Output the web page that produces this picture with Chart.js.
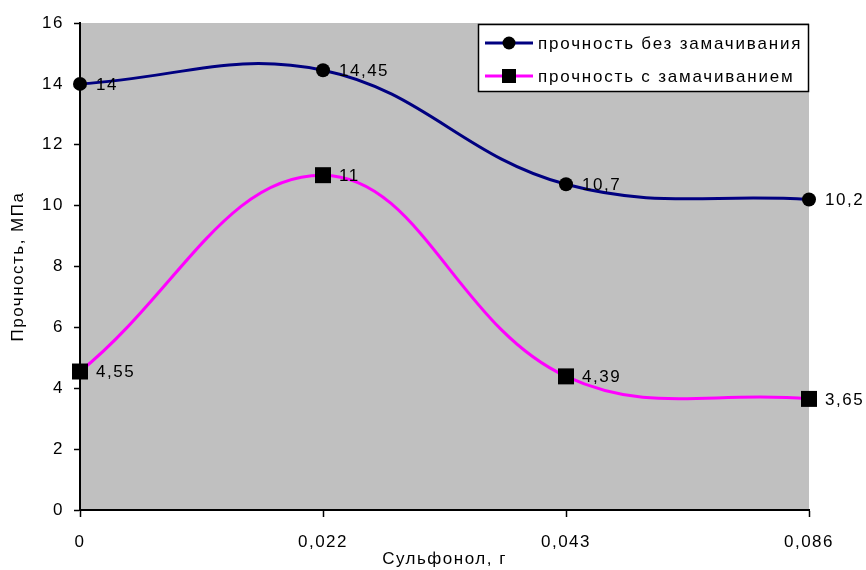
<!DOCTYPE html>
<html>
<head>
<meta charset="utf-8">
<script src="https://cdn.jsdelivr.net/npm/chart.js@4.4.1/dist/chart.umd.min.js"></script>
<style>
  html, body { margin: 0; background: #fff; }
  #wrap { width: 866px; height: 570px; }
</style>
</head>
<body>
<div id="wrap"><canvas id="chart"></canvas></div>
<script>
// ===== data =====
const categories  = ['0', '0,022', '0,043', '0,086'];
const seriesNames = ['прочность без замачивания', 'прочность с замачиванием'];
const dryStrength = [14, 14.45, 10.7, 10.2];   // без замачивания
const wetStrength = [4.55, 11, 4.39, 3.65];    // с замачиванием
const yMin = 0, yMax = 16, yStep = 2;
const xTitle = 'Сульфонол, г';
const yTitle = 'Прочность, МПа';

const NAVY = '#000080';
const MAGENTA = '#ff00ff';
const FONT = 'Liberation Sans, Arial, sans-serif';
const SPACING = '1.5px';

const fmt = v => String(v).replace('.', ',');

// ===== серый фон области построения =====
const plotBg = {
  id: 'plotBg',
  beforeDraw(chart) {
    const { ctx, chartArea: a } = chart;
    ctx.letterSpacing = SPACING;
    ctx.save();
    ctx.fillStyle = '#c0c0c0';
    ctx.fillRect(a.left, a.top, a.right - a.left, a.bottom - a.top);
    ctx.restore();
  }
};

// ===== подписи значений справа от точек =====
const valueLabels = {
  id: 'valueLabels',
  afterDatasetsDraw(chart) {
    const ctx = chart.ctx;
    ctx.save();
    ctx.letterSpacing = SPACING;
    ctx.font = '17px ' + FONT;
    ctx.fillStyle = '#000';
    ctx.textAlign = 'left';
    ctx.textBaseline = 'middle';
    chart.data.datasets.forEach((ds, i) => {
      chart.getDatasetMeta(i).data.forEach((pt, j) => {
        ctx.fillText(fmt(ds.data[j]), pt.x + 16, pt.y + 1);
      });
    });
    ctx.restore();
  }
};

// ===== легенда в белой рамке =====
const legendBox = {
  id: 'legendBox',
  afterDraw(chart) {
    const ctx = chart.ctx;
    const a = chart.chartArea;
    const w = 331, h = 68;
    const x = a.right - w, y = a.top + 1;
    ctx.save();
    ctx.fillStyle = '#fff';
    ctx.fillRect(x, y, w, h);
    ctx.strokeStyle = '#000';
    ctx.lineWidth = 1.5;
    ctx.strokeRect(x + 0.5, y + 0.5, w - 1, h - 1);
    ctx.letterSpacing = '1.8px';
    ctx.font = '17px ' + FONT;
    ctx.textBaseline = 'middle';
    chart.data.datasets.forEach((ds, i) => {
      const cy = y + 19 + i * 33;
      ctx.strokeStyle = ds.borderColor;
      ctx.lineWidth = 3;
      ctx.beginPath();
      ctx.moveTo(x + 7, cy);
      ctx.lineTo(x + 55, cy);
      ctx.stroke();
      ctx.fillStyle = '#000';
      if (ds.pointStyle === 'rect') {
        ctx.fillRect(x + 31 - 7, cy - 7, 14, 14);
      } else {
        ctx.beginPath();
        ctx.arc(x + 31, cy, 6.5, 0, Math.PI * 2);
        ctx.fill();
      }
      ctx.fillText(ds.label, x + 60, cy + 1);
    });
    ctx.restore();
  }
};

new Chart(document.getElementById('chart'), {
  type: 'line',
  data: {
    labels: categories,
    datasets: [
      {
        label: seriesNames[0],
        data: dryStrength,
        borderColor: NAVY,
        borderWidth: 3,
        tension: 0.4,
        pointStyle: 'circle',
        pointRadius: 7,
        pointBackgroundColor: '#000',
        pointBorderColor: '#000',
        pointBorderWidth: 0,
        clip: false
      },
      {
        label: seriesNames[1],
        data: wetStrength,
        borderColor: MAGENTA,
        borderWidth: 3,
        tension: 0.4,
        pointStyle: 'rect',
        pointRadius: 11.3,
        pointBackgroundColor: '#000',
        pointBorderColor: '#000',
        pointBorderWidth: 0,
        clip: false
      }
    ]
  },
  options: {
    responsive: true,
    maintainAspectRatio: false,
    animation: false,
    layout: { padding: { left: 0, right: 57, top: 23, bottom: 0 } },
    plugins: {
      legend: { display: false },
      tooltip: { enabled: false }
    },
    scales: {
      x: {
        offset: false,
        afterFit(scale) { scale.height = 60; },
        border: { color: '#000', width: 2 },
        grid: { display: true, drawOnChartArea: false, tickLength: 7, color: '#000', tickWidth: 1.5 },
        ticks: { color: '#000', padding: 15, maxRotation: 0, font: { family: FONT, size: 17 } },
        title: {
          display: true, text: xTitle, color: '#000',
          padding: { top: 0, bottom: 0 },
          font: { family: FONT, size: 17 }
        }
      },
      y: {
        min: yMin, max: yMax,
        afterFit(scale) { scale.width = 80; },
        border: { color: '#000', width: 2 },
        grid: { display: true, drawOnChartArea: false, tickLength: 6, color: '#000', tickWidth: 1.5 },
        ticks: { stepSize: yStep, color: '#000', padding: 10, font: { family: FONT, size: 17 } },
        title: {
          display: true, text: yTitle, color: '#000',
          padding: { top: 8, bottom: 0 },
          font: { family: FONT, size: 17 }
        }
      }
    }
  },
  plugins: [plotBg, valueLabels, legendBox]
});
</script>
</body>
</html>
